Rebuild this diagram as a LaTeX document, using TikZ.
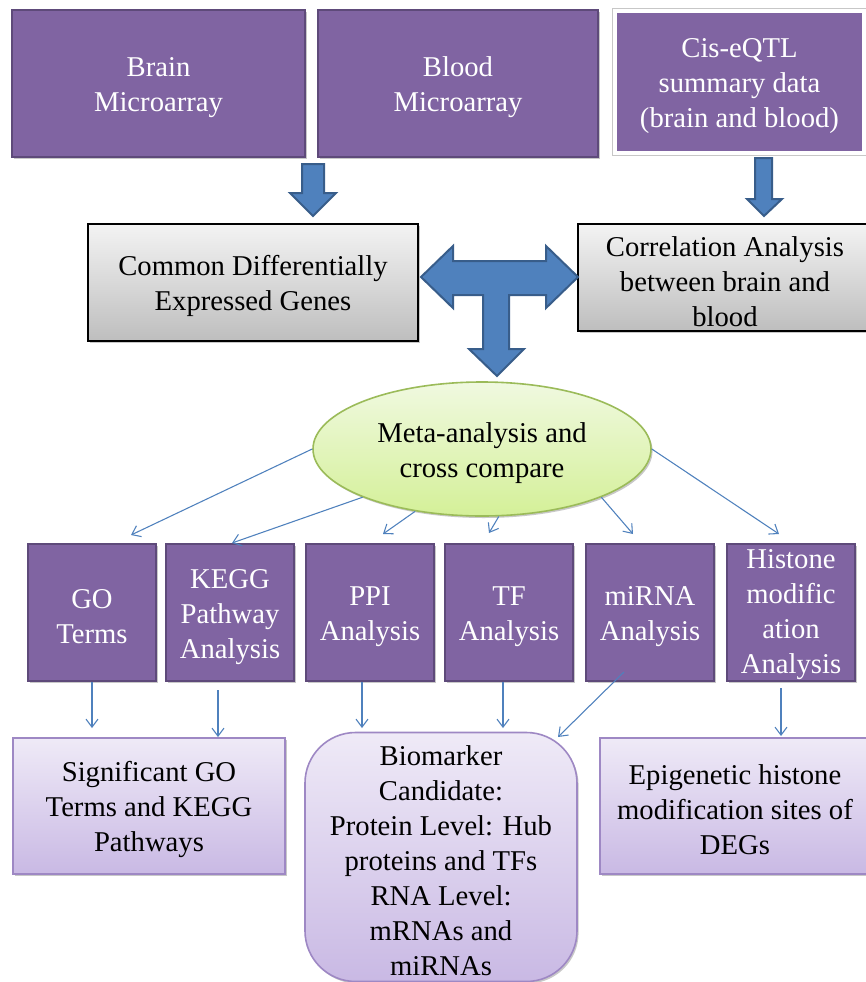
\documentclass[tikz,border=0pt]{standalone}
\usepackage{fontspec}
\setmainfont{Liberation Serif}
\usetikzlibrary{shapes.geometric,arrows.meta,shadows}
\definecolor{purpleF}{RGB}{128,100,162}
\definecolor{purpleD}{RGB}{94,74,122}
\definecolor{blueF}{RGB}{79,129,189}
\definecolor{blueD}{RGB}{56,93,138}
\definecolor{grayT}{RGB}{243,243,243}
\definecolor{grayB}{RGB}{190,190,190}
\definecolor{greenT}{RGB}{240,249,224}
\definecolor{greenB}{RGB}{212,240,152}
\definecolor{greenD}{RGB}{155,187,89}
\definecolor{lavT}{RGB}{239,234,247}
\definecolor{lavB}{RGB}{201,185,228}
\definecolor{lavD}{RGB}{158,136,196}
\newcommand{\topstrt}{\rule{0pt}{20.5pt}}
\newcommand{\topstrtb}{\rule{0pt}{17pt}}
\tikzset{
  myshadow/.style={drop shadow={shadow xshift=1.2pt,shadow yshift=-1.5pt,opacity=0.3,fill=black!70}},
  sz/.style 2 args={minimum width=#1*0.75pt,minimum height=#2*0.75pt},
  txt/.style={align=center,inner sep=0pt},
  pbox/.style={rectangle,fill=purpleF,draw=purpleD,line width=2.2pt,text=white,txt,myshadow},
  gbox/.style={rectangle,top color=grayT,bottom color=grayB,draw=black,line width=1.3pt,txt,myshadow},
  lbox/.style={rectangle,top color=lavT,bottom color=lavB,draw=lavD,line width=1.2pt,txt,myshadow},
  barrow/.style={fill=blueF,draw=blueD,line width=1.5pt,line join=miter},
  conn/.style={draw=blueF,line width=0.8pt,-{Straight Barb[length=6pt,width=9pt]}},
}
\begin{document}
\begin{tikzpicture}[x=0.75pt,y=-0.75pt,font=\fontsize{21.5}{26.25}\selectfont]
\useasboundingbox (0,0) rectangle (866,982);
\fill[white] (0,0) rectangle (866,982);

% top row
\node[pbox,sz={293}{147}] (brain) at (158.5,83.5) {\topstrt Brain\\Microarray};
\node[pbox,sz={280}{147}] (blood) at (458,83.5) {\topstrt Blood\\Microarray};
\node[pbox,draw=white,line width=3.5pt,sz={249}{142},
  preaction={draw=black!22,line width=5.2pt},
  drop shadow={shadow xshift=0.8pt,shadow yshift=-1.2pt,opacity=0.35,fill=black!60}] (cis) at (739.5,82)
  {\topstrt Cis-eQTL\\summary data\\(brain and blood)};

% middle row
\node[gbox,sz={330}{117}] (deg) at (253,282.5) {\topstrt Common Differentially\\Expressed Genes};
\node[gbox,sz={294}{107}] (corr) at (725,277.5) {\topstrt Correlation Analysis\\between brain and\\blood};

% block arrows
\path[barrow] (302,164) -- (324,164) -- (324,193) -- (336,193) -- (313,216) -- (290,193) -- (302,193) -- cycle;
\path[barrow] (755,158) -- (772,158) -- (772,199) -- (782,199) -- (764,216) -- (747,199) -- (755,199) -- cycle;
\path[barrow] (421,277) -- (453,246) -- (453,261) -- (546,261) -- (546,246) -- (578,277)
  -- (546,308) -- (546,295) -- (509,295) -- (509,349) -- (524,349) -- (497,376) -- (469,349)
  -- (483,349) -- (483,295) -- (453,295) -- (453,308) -- cycle;

% ellipse
\node[ellipse,draw=greenD,line width=1.2pt,top color=greenT,bottom color=greenB,
  sz={338}{134},txt,myshadow] (ell) at (482,449)
  {\topstrt Meta-analysis and\\cross compare};

% analysis row
\node[pbox,sz={128}{137}] (go) at (92,612.5) {\topstrt GO\\Terms};
\node[pbox,sz={128}{137}] (kegg) at (230,612.5) {\topstrt KEGG\\Pathway\\Analysis};
\node[pbox,sz={128}{137}] (ppi) at (370,612.5) {\topstrt PPI\\Analysis};
\node[pbox,sz={128}{137}] (tf) at (509,612.5) {\topstrt TF\\Analysis};
\node[pbox,sz={128}{137}] (mirna) at (650,612.5) {\topstrt miRNA\\Analysis};
\node[pbox,sz={128}{137}] (hist) at (791,612.5) {\topstrtb Histone\\modific\\ation\\Analysis};

% result row
\node[lbox,sz={272}{136}] (sig) at (149,806) {\topstrt Significant GO\\Terms and KEGG\\Pathways};
\node[lbox,rounded corners=38pt,sz={272}{249}] (bio) at (441,857)
  {\topstrt Biomarker\\Candidate:\\Protein Level: Hub\\proteins and TFs\\RNA Level:\\mRNAs and\\miRNAs};
\node[lbox,sz={270}{136}] (epi) at (735,806) {\topstrt Epigenetic histone\\modification sites of\\DEGs};

% connector end points
\coordinate (e1) at (131,535);
\coordinate (e2) at (232,543);
\coordinate (e3) at (383,534);
\coordinate (e4) at (489,533);
\coordinate (e5) at (633,534);
\coordinate (e6) at (779,534);
\coordinate (s2) at (218,690);
\coordinate (s5) at (624,672);
\coordinate (s6) at (781,688);
\coordinate (b1) at (92,728);
\coordinate (b2) at (218,737);
\coordinate (b3) at (362,728);
\coordinate (b4) at (503,728);
\coordinate (b5) at (558,737);
\coordinate (b6) at (781,736);

\draw[conn] (ell.west) -- (e1);
\draw[conn] (ell.202) -- (e2);
\draw[conn] (ell.223) -- (e3);
\draw[conn] (ell.284) -- (e4);
\draw[conn] (ell.338) -- (e5);
\draw[conn] (ell.east) -- (e6);

\draw[conn] (go.south) -- (b1);
\draw[conn] (s2) -- (b2);
\draw[conn] ([xshift=-6pt]ppi.south) -- (b3);
\draw[conn] ([xshift=-4.5pt]tf.south) -- (b4);
\draw[conn] (s5) -- (b5);
\draw[conn] (s6) -- (b6);
\end{tikzpicture}
\end{document}
